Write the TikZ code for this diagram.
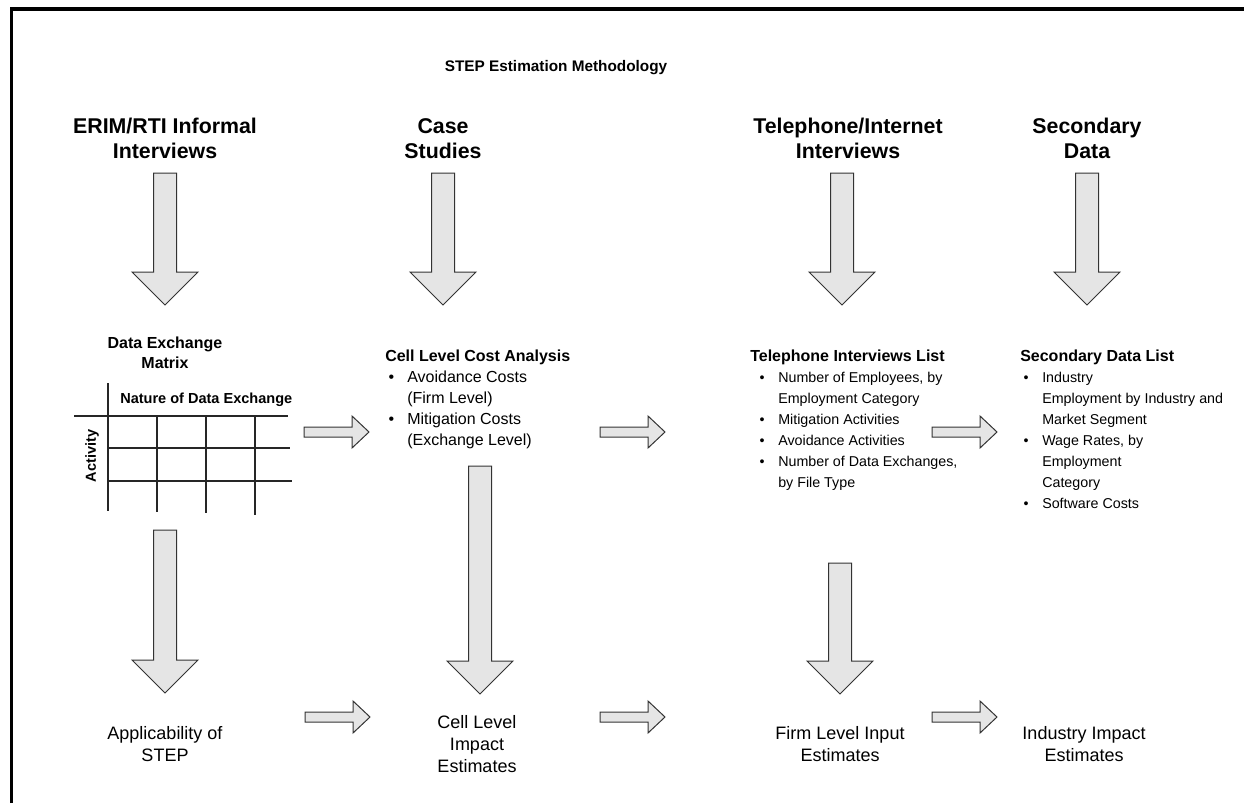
\documentclass[tikz,border=0pt]{standalone}
\usepackage{fontspec}
\setmainfont{Liberation Sans}
\newcommand{\Bul}{\hspace*{2.5pt}\makebox[14pt][l]{\textbullet}}
\newcommand{\Ind}{\hspace*{16.5pt}}
\newcommand{\BulT}{\hspace*{7pt}\makebox[14pt][l]{\textbullet}}
\newcommand{\IndT}{\hspace*{21pt}}
\newcommand{\LHead}{\bfseries\fontsize{12}{15.75}\selectfont}
% vertical block arrow: x centre, y top, y tip (pixel units, y down)
\newcommand{\DownBlk}[3]{\draw[blockarr] (#1-11.5,#2) -- (#1+11.5,#2) -- (#1+11.5,#3-33) -- (#1+33,#3-33) -- (#1,#3) -- (#1-33,#3-33) -- (#1-11.5,#3-33) -- cycle;}
% horizontal block arrow: x start, x tip, y centre
\newcommand{\RightBlk}[3]{\draw[blockarr] (#1,#3-5) -- (#2-17,#3-5) -- (#2-17,#3-16) -- (#2,#3) -- (#2-17,#3+16) -- (#2-17,#3+5) -- (#1,#3+5) -- cycle;}
\begin{document}
\begin{tikzpicture}[x=0.75pt,y=-0.75pt,
  title/.style={font=\bfseries\fontsize{11.5}{14}\selectfont, inner sep=0},
  hdr/.style={font=\bfseries\fontsize{16}{18.75}\selectfont, align=center, inner sep=0, anchor=base},
  lst/.style={font=\fontsize{12}{15.75}\selectfont, align=left, inner sep=0, anchor=base west},
  lstsm/.style={font=\fontsize{10.7}{15.75}\selectfont, align=left, inner sep=0, anchor=base west},
  sub/.style={font=\bfseries\fontsize{12}{15}\selectfont, align=center, inner sep=0, anchor=base},
  small/.style={font=\bfseries\fontsize{10.9}{13}\selectfont, inner sep=0},
  btm/.style={font=\fontsize{13.5}{16.5}\selectfont, align=center, inner sep=0, anchor=base},
  blockarr/.style={draw=black!80, fill=black!10, line width=0.75pt, line join=miter},
  gridline/.style={draw=black!85, line width=1.1pt}]
\useasboundingbox (0,0) rectangle (1244,803);
% frame (top and left edges)
\draw[line width=2.6pt, line join=miter] (11.5,803) -- (11.5,9) -- (1244,9);

% title and column headers (anchor base = last line)
\node[title] (title) at (556,68) {STEP Estimation Methodology};
\node[hdr] (h1) at (165,158) {ERIM/RTI Informal\\Interviews};
\node[hdr] (h2) at (443,158) {Case\\Studies};
\node[hdr] (h3) at (848,158) {Telephone/Internet\\Interviews};
\node[hdr] (h4) at (1087,158) {Secondary\\Data};

% top arrows
\DownBlk{165}{173}{305}
\DownBlk{443}{173}{305}
\DownBlk{842}{173}{305}
\DownBlk{1087}{173}{305}

% data exchange matrix
\node[sub] (mx) at (165,368) {Data Exchange\\Matrix};
\node[small, anchor=west] (nat) at (120,400) {Nature of Data Exchange};
\node[small, rotate=90] (act) at (92,456) {Activity};
\draw[gridline] (108,383) -- (108,511);
\draw[gridline] (74,416) -- (288,416);
\draw[gridline] (108,448) -- (290,448);
\draw[gridline] (108,481) -- (292,481);
\draw[gridline] (157,416) -- (157,512);
\draw[gridline] (206,416) -- (206,513);
\draw[gridline] (255,416) -- (255,515);

% lists (anchor base = last line)
\node[lst] (case) at (385,445) {{\bfseries Cell Level Cost Analysis}\\\Bul Avoidance Costs\\\Ind(Firm Level)\\\Bul Mitigation Costs\\\Ind(Exchange Level)};
\node[lstsm] (tel) at (750,487) {{\LHead Telephone Interviews List}\\\BulT Number of Employees, by\\\IndT Employment Category\\\BulT Mitigation Activities\\\BulT Avoidance Activities\\\BulT Number of Data Exchanges,\\\IndT by File Type};
\node[lstsm] (sec) at (1020,508) {{\LHead Secondary Data List}\\\Bul Industry\\\Ind Employment by Industry and\\\Ind Market Segment\\\Bul Wage Rates, by\\\Ind Employment\\\Ind Category\\\Bul Software Costs};

% middle row arrows
\RightBlk{304}{369}{432}
\RightBlk{600}{665}{432}
\RightBlk{932}{997}{432}

% lower down arrows
\DownBlk{165}{530}{693}
\DownBlk{480}{466}{694}
\DownBlk{840}{563}{694}

% bottom row
\node[btm] (app) at (165,761) {Applicability of\\STEP};
\node[btm] (cim) at (477,772) {Cell Level\\Impact\\Estimates};
\node[btm] (fli) at (840,761) {Firm Level Input\\Estimates};
\node[btm] (iie) at (1084,761) {Industry Impact\\Estimates};
\RightBlk{305}{370}{717}
\RightBlk{600}{665}{717}
\RightBlk{932}{997}{717}
\end{tikzpicture}
\end{document}
